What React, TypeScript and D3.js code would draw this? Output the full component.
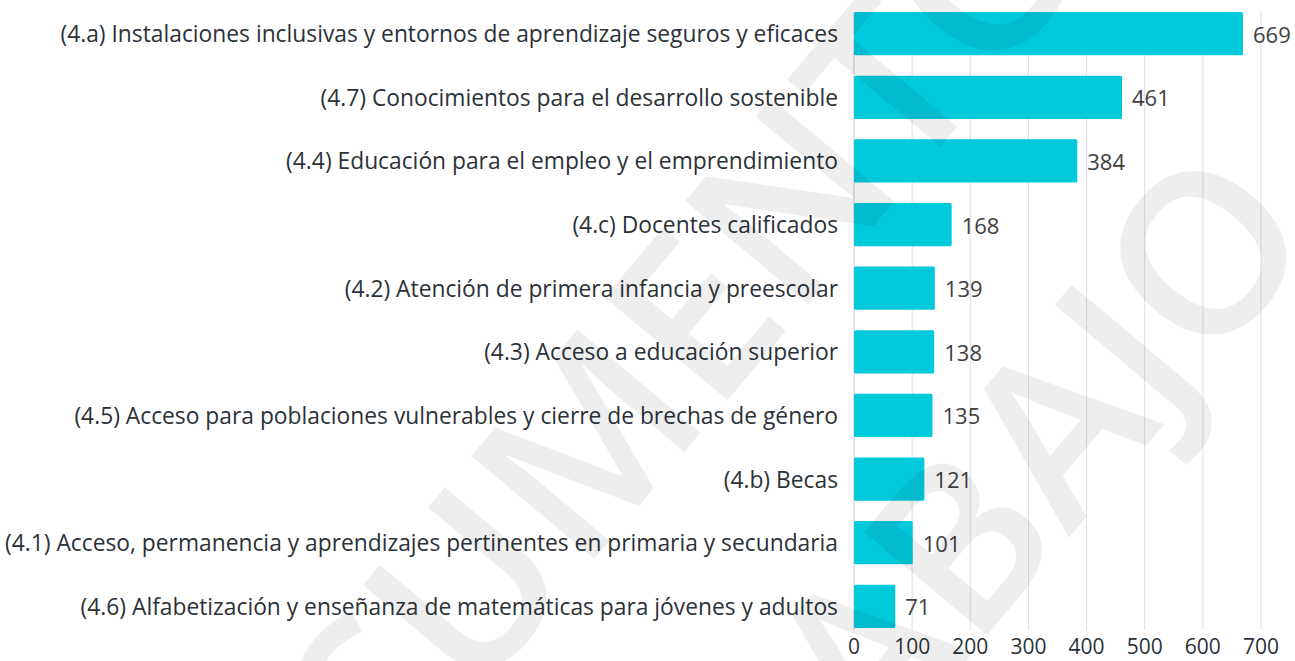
import { useEffect, useRef } from 'react';
import * as d3 from 'd3';

const categories = [
  '(4.a) Instalaciones inclusivas y entornos de aprendizaje seguros y eficaces',
  '(4.7) Conocimientos para el desarrollo sostenible',
  '(4.4) Educación para el empleo y el emprendimiento',
  '(4.c) Docentes calificados',
  '(4.2) Atención de primera infancia y preescolar',
  '(4.3) Acceso a educación superior',
  '(4.5) Acceso para poblaciones vulnerables y cierre de brechas de género',
  '(4.b) Becas',
  '(4.1) Acceso, permanencia y aprendizajes pertinentes en primaria y secundaria',
  '(4.6) Alfabetización y enseñanza de matemáticas para jóvenes y adultos',
];
const values = [669, 461, 384, 168, 139, 138, 135, 121, 101, 71];
const tickValues = [0, 100, 200, 300, 400, 500, 600, 700];
const watermarkLines = ['DOCUMENTO', 'DE TRABAJO'];

export default function App() {
  const svgRef = useRef<SVGSVGElement>(null);

  useEffect(() => {
    const width = 1295;
    const height = 661;
    const font = '"Open Sans", sans-serif';
    const barColor = '#00c9dc';

    const data = categories.map((c, i) => ({ c, v: values[i] }));

    const x = d3.scaleLinear().domain([0, 700]).range([854, 1261]);
    const y = d3
      .scaleBand()
      .domain(categories)
      .range([12, 628])
      .paddingInner(0.32)
      .paddingOuter(0);

    const svg = d3.select(svgRef.current);
    svg.selectAll('*').remove();
    svg.attr('width', width).attr('height', height);

    // Gridlines
    svg
      .append('g')
      .selectAll('line')
      .data(tickValues)
      .enter()
      .append('line')
      .attr('x1', d => x(d))
      .attr('x2', d => x(d))
      .attr('y1', 12)
      .attr('y2', 630)
      .attr('stroke', d => (d === 0 ? '#c8c8c8' : '#dedede'))
      .attr('stroke-width', 1);

    // Bars
    svg
      .append('g')
      .selectAll('rect')
      .data(data)
      .enter()
      .append('rect')
      .attr('x', x(0))
      .attr('y', d => y(d.c)!)
      .attr('width', d => x(d.v) - x(0))
      .attr('height', y.bandwidth())
      .attr('fill', barColor)
      .attr('rx', 1.5);

    // Category labels
    svg
      .append('g')
      .selectAll('text')
      .data(data)
      .enter()
      .append('text')
      .attr('x', 838)
      .attr('y', d => y(d.c)! + y.bandwidth() / 2)
      .attr('text-anchor', 'end')
      .attr('dominant-baseline', 'central')
      .style('font-family', font)
      .style('font-size', '22.8px')
      .attr('fill', '#2b3238')
      .text(d => d.c);

    // Value labels
    svg
      .append('g')
      .selectAll('text')
      .data(data)
      .enter()
      .append('text')
      .attr('x', d => x(d.v) + 10)
      .attr('y', d => y(d.c)! + y.bandwidth() / 2)
      .attr('dominant-baseline', 'central')
      .style('font-family', font)
      .style('font-size', '22px')
      .attr('fill', '#404040')
      .text(d => d.v);

    // X axis tick labels
    svg
      .append('g')
      .selectAll('text')
      .data(tickValues)
      .enter()
      .append('text')
      .attr('x', d => x(d))
      .attr('y', 646)
      .attr('text-anchor', 'middle')
      .attr('dominant-baseline', 'central')
      .style('font-family', font)
      .style('font-size', '21px')
      .attr('fill', '#2b3238')
      .text(d => d);

    // Watermark
    const wm = svg
      .append('g')
      .attr('transform', 'translate(700,570) rotate(-50)')
      .attr('pointer-events', 'none');
    wm.selectAll('text')
      .data(watermarkLines)
      .enter()
      .append('text')
      .attr('x', 0)
      .attr('y', (_, i) => (i === 0 ? -175 : 175))
      .attr('text-anchor', 'middle')
      .attr('dominant-baseline', 'central')
      .style('font-family', '"Open Sans", sans-serif')
      .style('font-weight', '600')
      .style('font-size', '225px')
      .attr('fill', '#000')
      .attr('fill-opacity', 0.065)
      .text(d => d);
  }, []);

  return (
    <svg
      ref={svgRef}
      width={1295}
      height={661}
      style={{ position: 'absolute', left: 0, top: 0, background: '#fff' }}
    ></svg>
  );
}
